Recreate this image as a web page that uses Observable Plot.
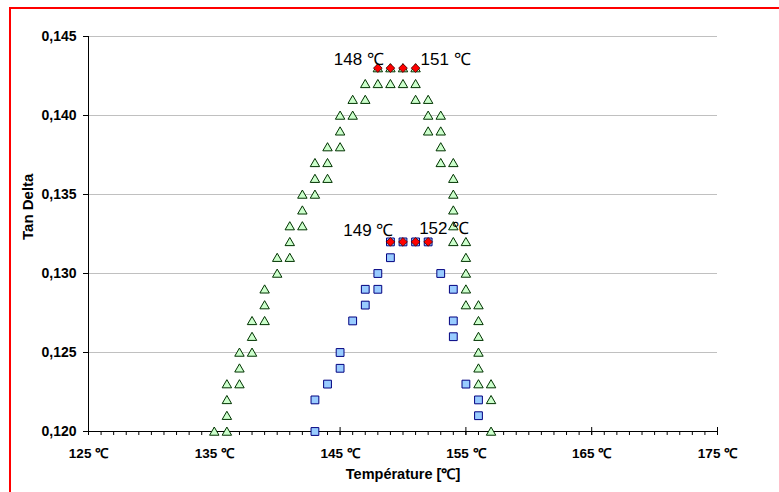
<!DOCTYPE html>
<html>
<head>
<meta charset="utf-8">
<script src="https://cdn.jsdelivr.net/npm/d3@7"></script>
<script src="https://cdn.jsdelivr.net/npm/@observablehq/plot@0.6"></script>
<style>
body { margin: 0; background: #ffffff; }
#wrap { position: relative; width: 779px; height: 492px; overflow: hidden; background: #ffffff; }
#border { position: absolute; left: 9px; top: 7px; width: 820px; height: 520px;
  border-top: 2px solid #ff0000; border-left: 2px solid #ff0000; pointer-events: none; }
</style>
</head>
<body>
<div id="wrap"><div id="chart"></div><div id="border"></div></div>
<script>
// ---- data ----
const triangleTemps = [135,136,136,136,136,137,137,137,138,138,138,139,139,139,140,140,141,141,141,142,142,142,143,143,143,144,144,144,145,145,145,146,146,147,147,148,148,149,149,150,150,151,151,151,152,152,152,153,153,153,153,154,154,154,154,154,154,155,155,155,155,155,156,156,156,156,156,156,157,157,157];
const triangleValues = [0.120, 0.120,0.121,0.122,0.123, 0.123,0.124,0.125, 0.125,0.126,0.127, 0.127,0.128,0.129, 0.130,0.131, 0.131,0.132,0.133, 0.133,0.134,0.135, 0.135,0.136,0.137, 0.136,0.137,0.138, 0.138,0.139,0.140, 0.140,0.141, 0.141,0.142, 0.142,0.143, 0.142,0.143, 0.142,0.143, 0.141,0.142,0.143, 0.139,0.140,0.141, 0.137,0.138,0.139,0.140, 0.132,0.133,0.134,0.135,0.136,0.137, 0.128,0.129,0.130,0.131,0.132, 0.123,0.124,0.125,0.126,0.127,0.128, 0.120,0.122,0.123];

const squareTemps = [143,143,144,145,145,146,147,147,148,148,149,149,150,151,152,153,154,154,154,155,156,156];
const squareValues = [0.120,0.122,0.123,0.124,0.125,0.127,0.128,0.129,0.129,0.130,0.131,0.132,0.132,0.132,0.132,0.130,0.126,0.127,0.129,0.123,0.121,0.122];

const peakTemps = [148,149,150,151,149,150,151,152];
const peakValues = [0.143,0.143,0.143,0.143,0.132,0.132,0.132,0.132];

const peakLabels = ["148 ℃","151 ℃","149 ℃","152 ℃"];
const peakLabelTemps = [148,151,149,152];
const peakLabelValues = [0.143,0.143,0.132,0.132];

const xTicks = [125,135,145,155,165,175];
const xMinorTicks = d3.range(125,176,1);
const yTicks = [0.120,0.125,0.130,0.135,0.140,0.145];

const xTitle = "Température [℃]";
const yTitle = "Tan Delta";

// ---- tables ----
const triangles = triangleTemps.map((t,i)=>({t, v: triangleValues[i]}));
const squares = squareTemps.map((t,i)=>({t, v: squareValues[i]}));
const peaks = peakTemps.map((t,i)=>({t, v: peakValues[i]}));
const labelRows = peakLabels.map((s,i)=>({s, t: peakLabelTemps[i], v: peakLabelValues[i]}));
const labelStyles = [
  {dx: 6, dy: -9, textAnchor: "end"},
  {dx: 5, dy: -9, textAnchor: "start"},
  {dx: 3, dy: -11, textAnchor: "end"},
  {dx: -9, dy: -13, textAnchor: "start"}
];

const font = "Arial, 'Liberation Sans', sans-serif";

const chart = Plot.plot({
  width: 779,
  height: 492,
  marginLeft: 88,
  marginRight: 62,
  marginTop: 36,
  marginBottom: 61,
  style: {fontFamily: font, fontSize: "13px", color: "#000", background: "transparent"},
  x: {domain: [125,175]},
  y: {domain: [0.120,0.145]},
  marks: [
    Plot.gridY(yTicks.slice(1), {stroke: "#c0c0c0", strokeOpacity: 1, strokeWidth: 1}),
    Plot.ruleY([0.120], {stroke: "#000"}),
    Plot.ruleX([125], {stroke: "#000"}),
    Plot.axisY({ticks: yTicks, tickSize: 5, tickPadding: 7, label: null,
      tickFormat: d => d3.format(".3f")(d).replace(".", ","), fontWeight: "bold", fontSize: 14}),
    Plot.axisX({ticks: xMinorTicks, tickSize: 4, fill: "none", label: null}),
    Plot.axisX({ticks: xTicks, tickSize: 8, dy: -4, fill: "none", label: null}),
    Plot.axisX({ticks: xTicks, tickSize: 0, tickPadding: 17, label: null,
      tickFormat: d => d + " ℃", fontWeight: "bold", fontSize: 13.5}),
    Plot.dot(triangles, {x: "t", y: "v", symbol: "triangle", r: 3.5, dy: 1,
      fill: "#ccffcc", stroke: "#003300", strokeWidth: 1}),
    Plot.dot(squares, {x: "t", y: "v", symbol: "square", r: 4.4,
      fill: "#99ccff", stroke: "#000080", strokeWidth: 1}),
    Plot.dot(peaks, {x: "t", y: "v", symbol: "diamond2", r: 3.9,
      fill: "#ff0000", stroke: "#400000", strokeWidth: 0.8}),
    ...labelRows.map((row, i) => Plot.text([row], {x: "t", y: "v", text: "s",
      fontSize: 17, fill: "#000", ...labelStyles[i]})),
    Plot.text([yTitle], {frameAnchor: "left", dx: -60, dy: 6, rotate: -90,
      fontWeight: "bold", fontSize: 15, fill: "#000"}),
    Plot.text([xTitle], {frameAnchor: "bottom", dy: 47,
      fontWeight: "bold", fontSize: 14.5, fill: "#000"})
  ]
});
document.getElementById("chart").appendChild(chart);
</script>
</body>
</html>
